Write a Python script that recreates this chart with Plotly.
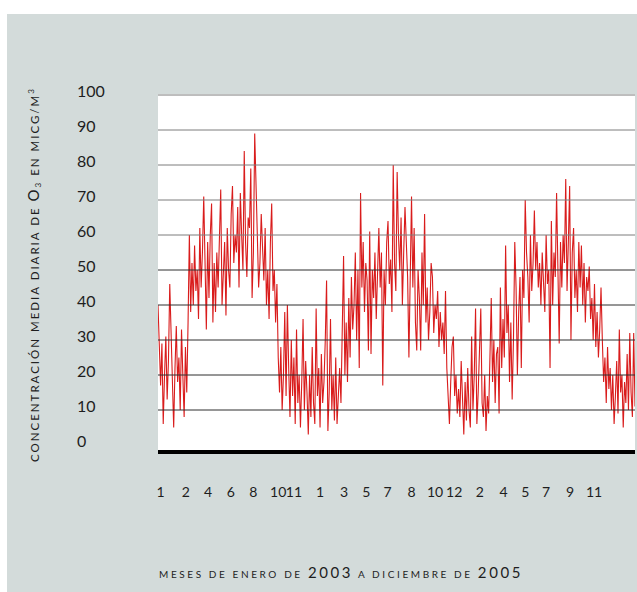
import numpy as np
import plotly.graph_objects as go

# Daily mean O3 concentration (micrograms/m3), one reading every 3 days, Jan 2003 - Dec 2005
ozone_2003 = [
    40, 25, 17, 29, 6, 20, 31, 13, 24, 46,
    30, 12, 5, 22, 34, 18, 25, 10, 33, 20,
    8, 28, 15, 35, 60, 38, 52, 40, 57, 44,
    50, 36, 62, 45, 55, 71, 48, 33, 58, 42,
    60, 69, 35, 52, 38, 55, 45, 62, 73, 40,
    48, 58, 37, 62, 50, 45, 66, 74, 52, 60,
    55, 68, 45, 72, 60, 50, 84, 58, 48, 65,
    62, 79, 42, 55, 89, 70, 60, 45, 52, 66,
    55, 47, 62, 40, 50, 36, 58, 69, 44, 50,
    35, 46, 25, 15, 28, 10, 20, 38, 14, 40,
    22, 8, 30, 14, 25, 6, 33, 12, 20, 5,
    18, 36, 10, 24, 15, 3, 20, 8, 28, 12,
]
ozone_2004 = [
    6, 39, 14, 22, 5, 26, 12, 18, 30, 47,
    4, 15, 36, 10, 20, 7, 25, 6, 14, 22,
    12, 30, 54, 20, 35, 18, 42, 25, 48, 33,
    40, 55, 30, 50, 22, 72, 45, 58, 38, 52,
    47, 27, 61, 26, 50, 42, 55, 36, 48, 62,
    45, 55, 17, 50, 40, 58, 64, 46, 53, 38,
    80, 52, 44, 78, 60, 50, 65, 40, 55, 68,
    58, 48, 25, 55, 71, 45, 62, 35, 27, 50,
    42, 27, 55, 40, 66, 35, 45, 30, 38, 52,
    48, 32, 40, 36, 44, 28, 38, 30, 35, 26,
    44, 22, 12, 6, 18, 28, 31, 14, 20, 9,
    16, 8, 24, 12, 3, 18, 7, 22, 10, 5,
]
ozone_2005 = [
    31, 10, 20, 39, 6, 15, 25, 39, 12, 8,
    20, 4, 14, 9, 25, 42, 18, 30, 12, 26,
    28, 9, 45, 22, 36, 25, 57, 32, 40, 18,
    35, 13, 30, 58, 45, 20, 38, 48, 22, 50,
    42, 70, 55, 48, 35, 60, 44, 52, 67, 50,
    58, 45, 52, 40, 55, 48, 38, 60, 46, 50,
    22, 64, 40, 55, 48, 72, 50, 29, 58, 45,
    60, 52, 76, 44, 58, 74, 30, 55, 62, 42,
    50, 38, 58, 45, 57, 40, 52, 35, 48, 44,
    51, 36, 42, 30, 46, 28, 38, 25, 33, 45,
    30, 18, 25, 12, 28, 16, 22, 10, 20, 6,
    14, 24, 9, 33, 15, 20, 5, 18, 12, 26,
    10, 32, 15, 8, 32, 11,
]
DAY_STEP = 3

month_labels = ["1", "2", "4", "6", "8", "10", "11", "1", "3", "5", "7",
                "8", "10", "12", "2", "4", "5", "7", "9", "11"]
month_label_days = [6, 64, 115, 167, 219, 276, 312, 372, 427, 478, 527,
                    582, 636, 680, 739, 793, 843, 891, 946, 1001]

y_tick_values = [0, 10, 20, 30, 40, 50, 60, 70, 80, 90, 100]
grid_values = [10, 20, 30, 40, 50, 60, 70, 80, 90, 100]
baseline_value = -2

y_title = ("<span style='letter-spacing:2px'>CONCENTRACIÓN MEDIA DIARIA DE "
           "<span style='font-size:15px'>O</span><sub>3</sub> EN MICG/M<sup>3</sup></span>")
x_title = ("<span style='letter-spacing:2.6px'>MESES DE ENERO DE <span style='font-size:15px'>2003</span> "
           "A DICIEMBRE DE <span style='font-size:15px'>2005</span></span>")

values = ozone_2003 + ozone_2004 + ozone_2005
days = np.arange(len(values)) * DAY_STEP

FONT = "Lato"
TXT = "#1e1e1e"
BG = "#d3dbda"

fig = go.Figure()
fig.add_trace(go.Scatter(
    x=days, y=values, mode="lines",
    line=dict(color="#d91c1c", width=1.1),
    hoverinfo="skip", showlegend=False,
))

shapes = []
for v in grid_values:
    shapes.append(dict(type="line", xref="paper", yref="y", x0=0, x1=1, y0=v, y1=v,
                       line=dict(color="#7c7c7c" if v >= 60 else "#2e2e2e", width=1),
                       layer="above"))
shapes.append(dict(type="line", xref="paper", yref="y", x0=0, x1=1,
                   y0=baseline_value, y1=baseline_value,
                   line=dict(color="#000000", width=4), layer="above"))
# white frame strips outside the grey panel
W, H, L, R, T, B = 637, 592, 158, 2, 94, 138
pw, ph = W - L - R, H - T - B
shapes.append(dict(type="rect", xref="paper", yref="paper", x0=-L / pw, x1=(-L + 7) / pw,
                   y0=-B / ph, y1=1 + T / ph, fillcolor="white", line=dict(width=0), layer="below"))
shapes.append(dict(type="rect", xref="paper", yref="paper", x0=-L / pw, x1=1 + R / pw,
                   y0=1 + (T - 14) / ph, y1=1 + T / ph, fillcolor="white", line=dict(width=0), layer="below"))

annotations = []
for v in y_tick_values:
    annotations.append(dict(
        x=(75 - L) / pw, xref="paper", y=v, yref="y", xanchor="left", yanchor="middle",
        yshift=5, showarrow=False, text=str(v),
        font=dict(family=FONT, size=16, color=TXT),
    ))
annotations.append(dict(
    x=(33 - L) / pw, xref="paper", y=(H - B - 275) / ph, yref="paper",
    xanchor="center", yanchor="middle", textangle=-90, showarrow=False,
    text=y_title, font=dict(family=FONT, size=11.5, color=TXT),
))
annotations.append(dict(
    x=(341 - L) / pw, xref="paper", y=-(572 - (H - B)) / ph, yref="paper",
    xanchor="center", yanchor="middle", showarrow=False,
    text=x_title, font=dict(family=FONT, size=10, color=TXT),
))

fig.update_layout(
    width=W, height=H,
    margin=dict(l=L, r=R, t=T, b=B, pad=0),
    paper_bgcolor=BG, plot_bgcolor="white",
    shapes=shapes, annotations=annotations,
    xaxis=dict(range=[0, days[-1]], showgrid=False, zeroline=False, showline=False,
               tickmode="array", tickvals=month_label_days, ticktext=month_labels,
               ticks="", ticklabelstandoff=28, tickangle=0,
               tickfont=dict(family=FONT, size=14, color=TXT)),
    yaxis=dict(range=[100 + 1 / 3.5 - ph / 3.5, 100 + 1 / 3.5], showgrid=False,
               zeroline=False, showline=False, showticklabels=False, ticks=""),
)

fig.write_html("out.html", config={"displayModeBar": False},
               post_script="document.body.style.margin='0px';")
